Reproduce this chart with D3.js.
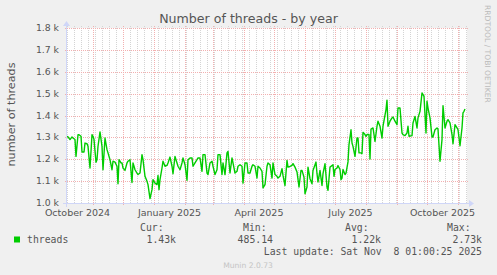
<!DOCTYPE html>
<html>
<head>
<meta charset="utf-8">
<script src="https://cdn.jsdelivr.net/npm/d3@7"></script>
<style>
  body { margin: 0; background: #f0f0f0; }
  svg { display: block; }
  text { font-family: "DejaVu Sans", sans-serif; fill: #555; }
  .mono { font-family: "DejaVu Sans Mono", monospace; }
</style>
</head>
<body>
<div id="chart"></div>
<script>
const width = 497;
const height = 275;

// daily samples
const dates = [
  "2024-10-06","2024-10-07","2024-10-09","2024-10-11","2024-10-12","2024-10-14","2024-10-15","2024-10-17","2024-10-18","2024-10-20",
  "2024-10-21","2024-10-23","2024-10-24","2024-10-26","2024-10-27","2024-10-29","2024-10-31","2024-11-01","2024-11-02","2024-11-04",
  "2024-11-05","2024-11-06","2024-11-08","2024-11-10","2024-11-11","2024-11-13","2024-11-15","2024-11-16","2024-11-18","2024-11-20",
  "2024-11-21","2024-11-23","2024-11-25","2024-11-26","2024-11-27","2024-11-29","2024-11-30","2024-12-01","2024-12-03","2024-12-05",
  "2024-12-06","2024-12-08","2024-12-10","2024-12-11","2024-12-12","2024-12-13","2024-12-15","2024-12-16","2024-12-18","2024-12-20",
  "2024-12-21","2024-12-23","2024-12-25","2024-12-26","2024-12-28","2024-12-30","2024-12-31","2025-01-02","2025-01-04","2025-01-05",
  "2025-01-06","2025-01-07","2025-01-09","2025-01-10","2025-01-12","2025-01-14","2025-01-15","2025-01-17","2025-01-19","2025-01-20",
  "2025-01-22","2025-01-24","2025-01-25","2025-01-27","2025-01-29","2025-01-30","2025-02-01","2025-02-03","2025-02-04","2025-02-06",
  "2025-02-08","2025-02-09","2025-02-11","2025-02-13","2025-02-14","2025-02-16","2025-02-18","2025-02-19","2025-02-21","2025-02-23",
  "2025-02-24","2025-02-26","2025-02-28","2025-03-01","2025-03-03","2025-03-05","2025-03-06","2025-03-08","2025-03-10","2025-03-11",
  "2025-03-13","2025-03-15","2025-03-16","2025-03-18","2025-03-20","2025-03-21","2025-03-23","2025-03-25","2025-03-26","2025-03-28",
  "2025-03-30","2025-03-31","2025-04-02","2025-04-04","2025-04-05","2025-04-07","2025-04-09","2025-04-10","2025-04-12","2025-04-14",
  "2025-04-15","2025-04-17","2025-04-19","2025-04-20","2025-04-22","2025-04-24","2025-04-25","2025-04-27","2025-04-29","2025-04-30",
  "2025-05-02","2025-05-04","2025-05-05","2025-05-07","2025-05-09","2025-05-10","2025-05-12","2025-05-14","2025-05-15","2025-05-17",
  "2025-05-19","2025-05-20","2025-05-22","2025-05-24","2025-05-26","2025-05-28","2025-05-29","2025-05-31","2025-06-01","2025-06-03",
  "2025-06-04","2025-06-06","2025-06-08","2025-06-09","2025-06-12","2025-06-13","2025-06-14","2025-06-16","2025-06-18","2025-06-19",
  "2025-06-21","2025-06-23","2025-06-24","2025-06-26","2025-06-29","2025-06-30","2025-07-01","2025-07-03","2025-07-04","2025-07-06",
  "2025-07-07","2025-07-08","2025-07-09","2025-07-11","2025-07-12","2025-07-14","2025-07-15","2025-07-17","2025-07-18","2025-07-19",
  "2025-07-21","2025-07-23","2025-07-24","2025-07-25","2025-07-27","2025-07-28","2025-07-29","2025-07-31","2025-08-01","2025-08-02",
  "2025-08-04","2025-08-05","2025-08-06","2025-08-08","2025-08-10","2025-08-12","2025-08-13","2025-08-15","2025-08-17","2025-08-18",
  "2025-08-21","2025-08-22","2025-08-23","2025-08-25","2025-08-27","2025-08-28","2025-08-30","2025-09-01","2025-09-02","2025-09-04",
  "2025-09-06","2025-09-07","2025-09-09","2025-09-11","2025-09-12","2025-09-13","2025-09-16","2025-09-17","2025-09-19","2025-09-21",
  "2025-09-22","2025-09-24","2025-09-26","2025-09-27","2025-09-28","2025-09-30","2025-10-01","2025-10-02","2025-10-04","2025-10-06",
  "2025-10-07","2025-10-09","2025-10-11","2025-10-12","2025-10-14","2025-10-16","2025-10-17","2025-10-19","2025-10-21","2025-10-22",
  "2025-10-24","2025-10-26","2025-10-27","2025-10-29","2025-10-31","2025-11-01","2025-11-03","2025-11-05","2025-11-06","2025-11-07",
  "2025-11-08"
];
const threads = [
  1305,1302,1290,1302,1297,1290,1213,1312,1312,1305,
  1233,1233,1274,1271,1259,1160,1312,1305,1290,1186,
  1198,1259,1325,1259,1152,1297,1244,1229,1198,1152,
  1191,1187,1168,1088,1198,1183,1183,1160,1149,1183,
  1191,1198,1094,1183,1168,1152,1137,1130,1137,1221,
  1198,1122,1099,1084,1020,1061,1107,1091,1084,1126,
  1061,1107,1160,1191,1168,1172,1183,1210,1168,1134,
  1213,1183,1168,1152,1183,1206,1175,1104,1198,1206,
  1206,1168,1183,1198,1206,1206,1145,1221,1221,1137,
  1130,1183,1191,1168,1130,1152,1221,1221,1130,1183,
  1130,1229,1236,1137,1206,1183,1137,1145,1168,1175,
  1168,1091,1183,1183,1137,1137,1168,1175,1168,1114,
  1168,1160,1145,1069,1084,1168,1183,1175,1114,1183,
  1130,1122,1114,1122,1157,1126,1080,1195,1164,1167,
  1172,1180,1164,1142,1073,1149,1149,1118,1042,1073,
  1164,1111,1088,1149,1187,1134,1096,1149,1080,1134,
  1180,1073,1058,1164,1175,1122,1153,1160,1171,1153,
  1107,1114,1153,1130,1137,1188,1267,1335,1274,1259,
  1213,1297,1297,1229,1229,1226,1323,1313,1305,1313,
  1313,1201,1338,1343,1282,1351,1374,1351,1297,1351,
  1427,1470,1351,1374,1389,1393,1374,1358,1434,1434,
  1320,1313,1308,1320,1351,1305,1308,1366,1396,1343,
  1389,1419,1503,1495,1488,1320,1465,1434,1389,1302,
  1302,1335,1343,1338,1191,1290,1445,1343,1374,1381,
  1366,1313,1271,1358,1343,1335,1262,1343,1412,1419,
  1430
];

const yTicks = [1000, 1100, 1200, 1300, 1400, 1500, 1600, 1700, 1800];
const labelMonths = ["2024-10-01", "2025-01-01", "2025-04-01", "2025-07-01", "2025-10-01"];

const legendHeads = ["Cur:", "Min:", "Avg:", "Max:"];
const legendValues = ["1.43k", "485.14", "1.22k", "2.73k"];

const parse = d3.utcParse("%Y-%m-%d");
const data = dates.map((d, i) => ({ date: parse(d), value: threads[i] }));

const plotLeft = 67, plotRight = 467, plotTop = 28, plotBottom = 203;

const x = d3.scaleUtc()
  .domain([parse("2024-10-06"), parse("2025-11-10")])
  .range([plotLeft, plotRight]);

const y = d3.scaleLinear()
  .domain([1000, 1800])
  .range([plotBottom, plotTop]);

const svg = d3.select("#chart")
  .append("svg")
  .attr("width", width)
  .attr("height", height);

svg.append("rect")
  .attr("width", width)
  .attr("height", height)
  .attr("fill", "#f0f0f0");

svg.append("rect")
  .attr("x", plotLeft)
  .attr("y", plotTop)
  .attr("width", plotRight - plotLeft)
  .attr("height", plotBottom - plotTop)
  .attr("fill", "#fff");

// minor grid: weekly
const [t0, t1] = x.domain();
svg.append("g")
  .selectAll("line")
  .data(d3.utcSunday.range(t0, t1))
  .join("line")
  .attr("x1", d => Math.round(x(d)) + 0.5)
  .attr("x2", d => Math.round(x(d)) + 0.5)
  .attr("y1", plotTop - 2)
  .attr("y2", plotBottom)
  .attr("stroke", "#d4d4d4")
  .attr("stroke-dasharray", "1,1");

// major grid: monthly
svg.append("g")
  .selectAll("line")
  .data(d3.utcMonth.range(t0, t1))
  .join("line")
  .attr("x1", d => Math.round(x(d)) + 0.5)
  .attr("x2", d => Math.round(x(d)) + 0.5)
  .attr("y1", plotTop - 2)
  .attr("y2", plotBottom + 3)
  .attr("stroke", "#f2b0b0")
  .attr("stroke-dasharray", "1,1");

svg.append("g")
  .selectAll("line")
  .data(yTicks)
  .join("line")
  .attr("x1", plotLeft - 2)
  .attr("x2", plotRight + 2)
  .attr("y1", d => Math.round(y(d)) + 0.5)
  .attr("y2", d => Math.round(y(d)) + 0.5)
  .attr("stroke", "#f2b0b0")
  .attr("stroke-dasharray", "1,1");

// data line
svg.append("path")
  .datum(data)
  .attr("fill", "none")
  .attr("stroke", "#00cc00")
  .attr("stroke-width", 1.4)
  .attr("stroke-linejoin", "round")
  .attr("d", d3.line().x(d => x(d.date)).y(d => y(d.value)));

// axes with arrows
const axisColor = "#cfd6f8";
svg.append("line")
  .attr("x1", plotLeft - 4).attr("x2", plotRight + 4)
  .attr("y1", plotBottom + 0.5).attr("y2", plotBottom + 0.5)
  .attr("stroke", axisColor);
svg.append("line")
  .attr("x1", plotLeft - 0.5).attr("x2", plotLeft - 0.5)
  .attr("y1", plotBottom + 4).attr("y2", plotTop - 4)
  .attr("stroke", axisColor);
svg.append("path")
  .attr("d", `M${plotRight + 2},${plotBottom - 3}L${plotRight + 2},${plotBottom + 4}L${plotRight + 7},${plotBottom + 0.5}Z`)
  .attr("fill", axisColor);
svg.append("path")
  .attr("d", `M${plotLeft - 4},${plotTop - 2}L${plotLeft + 3},${plotTop - 2}L${plotLeft - 0.5},${plotTop - 7}Z`)
  .attr("fill", axisColor);

// y tick labels
svg.append("g")
  .selectAll("text")
  .data(yTicks)
  .join("text")
  .attr("x", 59)
  .attr("y", d => y(d) + 3)
  .attr("text-anchor", "end")
  .attr("font-size", 9.3)
  .text(d => d3.format(".1f")(d / 1000) + " k");

// x month labels, centred on the month
svg.append("g")
  .selectAll("text")
  .data(labelMonths.map(parse))
  .join("text")
  .attr("x", d => (x(d) + x(d3.utcMonth.offset(d, 1))) / 2)
  .attr("y", 215.5)
  .attr("text-anchor", "middle")
  .attr("font-size", 9.5)
  .text(d => d3.utcFormat("%B %Y")(d));

svg.append("text")
  .attr("x", 248.5)
  .attr("y", 23)
  .attr("text-anchor", "middle")
  .attr("font-size", 12.6)
  .text("Number of threads - by year");

svg.append("text")
  .attr("transform", "translate(15,114.5) rotate(-90)")
  .attr("text-anchor", "middle")
  .attr("font-size", 11.2)
  .text("number of threads");

svg.append("text")
  .attr("transform", "translate(485,5) rotate(90)")
  .attr("font-size", 7.6)
  .style("fill", "#bbb")
  .text("RRDTOOL / TOBI OETIKER");

// legend
svg.append("rect")
  .attr("x", 14).attr("y", 236.5)
  .attr("width", 6).attr("height", 6)
  .attr("fill", "#00cc00");

svg.append("text")
  .attr("class", "mono")
  .attr("x", 27).attr("y", 243)
  .attr("font-size", 9.8)
  .text("threads");

const headX = [140, 243, 345, 447];
const valX = [176, 273, 381, 482];

svg.append("g")
  .selectAll("text")
  .data(legendHeads)
  .join("text")
  .attr("class", "mono")
  .attr("x", (d, i) => headX[i])
  .attr("y", 231)
  .attr("font-size", 9.8)
  .text(d => d);

svg.append("g")
  .selectAll("text")
  .data(legendValues)
  .join("text")
  .attr("class", "mono")
  .attr("x", (d, i) => valX[i])
  .attr("y", 243)
  .attr("text-anchor", "end")
  .attr("font-size", 9.8)
  .text(d => d);

svg.append("text")
  .attr("class", "mono")
  .attr("x", 482).attr("y", 254.5)
  .attr("text-anchor", "end")
  .attr("font-size", 9.8)
  .style("white-space", "pre")
  .text("Last update: Sat Nov  8 01:00:25 2025");

svg.append("text")
  .attr("x", 248).attr("y", 267.5)
  .attr("text-anchor", "middle")
  .attr("font-size", 7.6)
  .style("fill", "#c4c4c4")
  .text("Munin 2.0.73");
</script>
</body>
</html>
